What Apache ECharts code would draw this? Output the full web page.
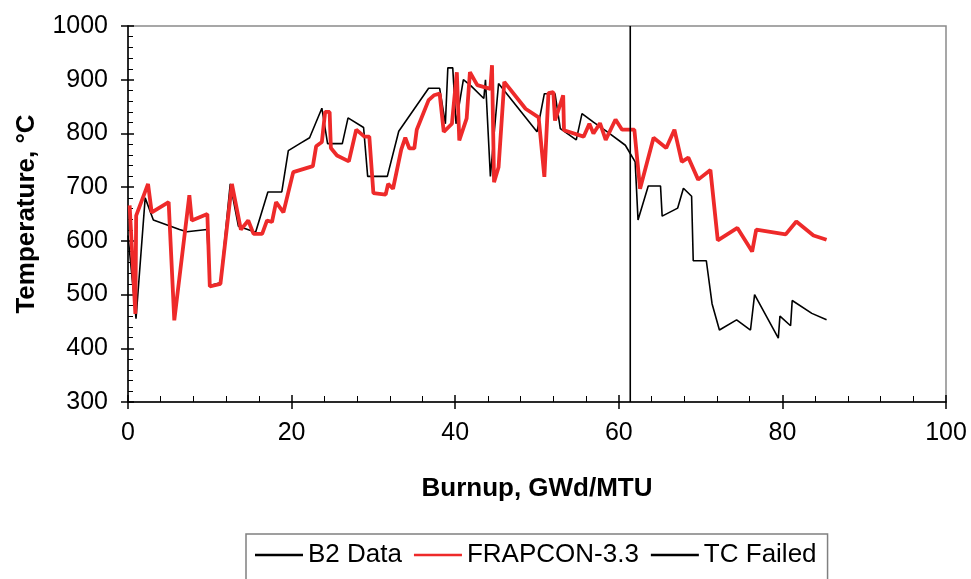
<!DOCTYPE html>
<html>
<head>
<meta charset="utf-8">
<script src="https://cdn.jsdelivr.net/npm/echarts@6/dist/echarts.min.js"></script>
<style>
  html, body { margin: 0; padding: 0; background: #fff; }
  #main { width: 971px; height: 579px; }
</style>
</head>
<body>
<div id="main"></div>
<script>
// burnup (GWd/MTU), temperature (C)
var b2Data = [
    [0, 610], [0.98, 455], [2.1, 680], [3.1, 639], [6.3, 621], [7.2, 617],
    [9.66, 621], [10.0, 517], [11.3, 522], [12.5, 706], [13.5, 627], [15.6, 616],
    [17.1, 691], [18.8, 691], [19.6, 768], [21.1, 782], [22.2, 792], [23.7, 847],
    [24.4, 781], [26.2, 781], [26.9, 829], [28.8, 811], [29.3, 720], [31.7, 720],
    [33.1, 804], [36.75, 884], [38.1, 884], [38.8, 818], [39.1, 922], [39.7, 922],
    [40.1, 818], [41.0, 900], [41.9, 889], [43.5, 865], [43.7, 900], [44.3, 720],
    [45.3, 893], [50.0, 803], [50.9, 874], [52.2, 874], [52.85, 809], [54.8, 788],
    [55.5, 837], [56.9, 821], [58.6, 803], [60.8, 778], [62.0, 747], [62.35, 639],
    [63.6, 702], [65.1, 702], [65.3, 646], [67.2, 661], [67.9, 698], [68.9, 683],
    [69.1, 563], [70.7, 563], [71.4, 483], [72.3, 434], [74.4, 453], [76.1, 434],
    [76.6, 500], [79.5, 419], [79.7, 460], [81.0, 442], [81.2, 489], [83.6, 465],
    [85.4, 453]
];

var frapconData = [
    [0.2, 666], [0.9, 464], [1.0, 647], [2.45, 706], [2.9, 653], [4.97, 672],
    [5.66, 452], [7.5, 685], [7.8, 638], [9.7, 650], [10.0, 515], [11.3, 520],
    [12.7, 706], [13.8, 621], [14.7, 638], [15.35, 613], [16.4, 613], [17.0, 638],
    [17.6, 635], [18.1, 672], [19.0, 653], [20.2, 728], [22.6, 739], [23.0, 776],
    [23.7, 784], [24.1, 840], [24.65, 840], [24.8, 773], [25.55, 759], [27.0, 748],
    [27.9, 807], [28.9, 794], [29.5, 794], [30.0, 689], [31.5, 686], [31.8, 706],
    [32.4, 697], [33.4, 770], [33.9, 792], [34.4, 772], [35.0, 772], [35.3, 807],
    [36.75, 862], [37.4, 871], [38.1, 874], [38.6, 803], [39.6, 818], [40.2, 914],
    [40.5, 787], [41.4, 828], [41.8, 914], [42.7, 890], [44.3, 883], [44.5, 927],
    [44.75, 709], [45.3, 737], [46.0, 896], [48.6, 846], [50.2, 830], [50.9, 719],
    [51.4, 875], [52.0, 877], [52.2, 824], [53.2, 871], [53.3, 806], [55.7, 794],
    [56.4, 818], [56.9, 800], [57.7, 819], [58.4, 788], [59.6, 826], [60.4, 807],
    [61.9, 807], [62.6, 697], [64.25, 792], [65.8, 773], [66.8, 807], [67.7, 747],
    [68.5, 755], [69.7, 714], [71.2, 732], [72.1, 601], [74.5, 624], [76.3, 580],
    [76.8, 621], [80.4, 612], [81.7, 636], [83.8, 610], [85.4, 602]
];

var tcFailedData = [[61.4, 300], [61.4, 1000]];

var seriesNames = ['B2 Data', 'FRAPCON-3.3', 'TC Failed'];

var font = '"Liberation Sans", Arial, sans-serif';

var myChart = echarts.init(document.getElementById('main'));

var option = {
    animation: false,
    backgroundColor: '#fff',
    legend: {
        data: [
            { name: seriesNames[0], icon: 'rect', itemStyle: { color: '#000' } },
            { name: seriesNames[1], icon: 'rect', itemStyle: { color: '#ee2a2a' } },
            { name: seriesNames[2], icon: 'rect', itemStyle: { color: '#000' } }
        ],
        left: 246,
        top: 534,
        orient: 'horizontal',
        itemWidth: 48,
        itemHeight: 2.5,
        itemGap: 12,
        padding: [8, 11, 40, 9],
        borderColor: '#808080',
        borderWidth: 1.5,
        textStyle: { fontFamily: font, fontSize: 26, color: '#000' }
    },
    grid: {
        left: 128,
        right: 25,
        top: 26,
        bottom: 177,
        show: true,
        borderColor: '#8a8a8a',
        borderWidth: 1.5
    },
    xAxis: [{
        type: 'value',
        min: 0,
        max: 100,
        interval: 20,
        name: 'Burnup, GWd/MTU',
        nameLocation: 'middle',
        nameGap: 74,
        nameTextStyle: { fontFamily: font, fontSize: 26, fontWeight: 'bold', color: '#000' },
        axisLine: { show: true, onZero: false, lineStyle: { color: '#000', width: 1.5 } },
        axisTick: { show: true, inside: false, length: 7, lineStyle: { color: '#000', width: 1.5 } },
        axisLabel: { fontFamily: font, fontSize: 25, color: '#000', margin: 19 },
        splitLine: { show: false }
    }, {
        type: 'value',
        min: 0,
        max: 100,
        interval: 20,
        position: 'bottom',
        axisLine: { show: false },
        axisTick: { show: true, inside: true, length: 7, lineStyle: { color: '#000', width: 1.5 } },
        minorTick: { show: true, splitNumber: 5, length: 6, lineStyle: { color: '#000', width: 1 } },
        axisLabel: { show: false },
        splitLine: { show: false }
    }],
    yAxis: [{
        type: 'value',
        min: 300,
        max: 1000,
        interval: 100,
        name: 'Temperature, °C',
        nameLocation: 'middle',
        nameGap: 88,
        nameTextStyle: { fontFamily: font, fontSize: 26, fontWeight: 'bold', color: '#000' },
        axisLine: { show: true, onZero: false, lineStyle: { color: '#000', width: 1.5 } },
        axisTick: { show: true, inside: false, length: 7, lineStyle: { color: '#000', width: 1.5 } },
        axisLabel: {
            fontFamily: font, fontSize: 25, color: '#000', margin: 20,
            formatter: function (v) { return String(v); }
        },
        splitLine: { show: false }
    }, {
        type: 'value',
        min: 300,
        max: 1000,
        interval: 100,
        position: 'left',
        axisLine: { show: false },
        axisTick: { show: true, inside: true, length: 6, lineStyle: { color: '#000', width: 1.5 } },
        minorTick: { show: true, splitNumber: 5, length: 5, lineStyle: { color: '#000', width: 1 } },
        axisLabel: { show: false },
        splitLine: { show: false }
    }],
    series: [{
        name: 'B2 Data',
        type: 'line',
        data: b2Data,
        showSymbol: false,
        symbol: 'none',
        z: 3,
        lineStyle: { color: '#000', width: 1.6 },
        itemStyle: { color: '#000' }
    }, {
        name: 'FRAPCON-3.3',
        type: 'line',
        data: frapconData,
        showSymbol: false,
        symbol: 'none',
        z: 4,
        lineStyle: { color: '#ee2a2a', width: 3.8 },
        itemStyle: { color: '#ee2a2a' }
    }, {
        name: 'TC Failed',
        type: 'line',
        data: tcFailedData,
        showSymbol: false,
        symbol: 'none',
        z: 5,
        lineStyle: { color: '#000', width: 1.6 },
        itemStyle: { color: '#000' }
    }]
};
myChart.setOption(option);
</script>
</body>
</html>
